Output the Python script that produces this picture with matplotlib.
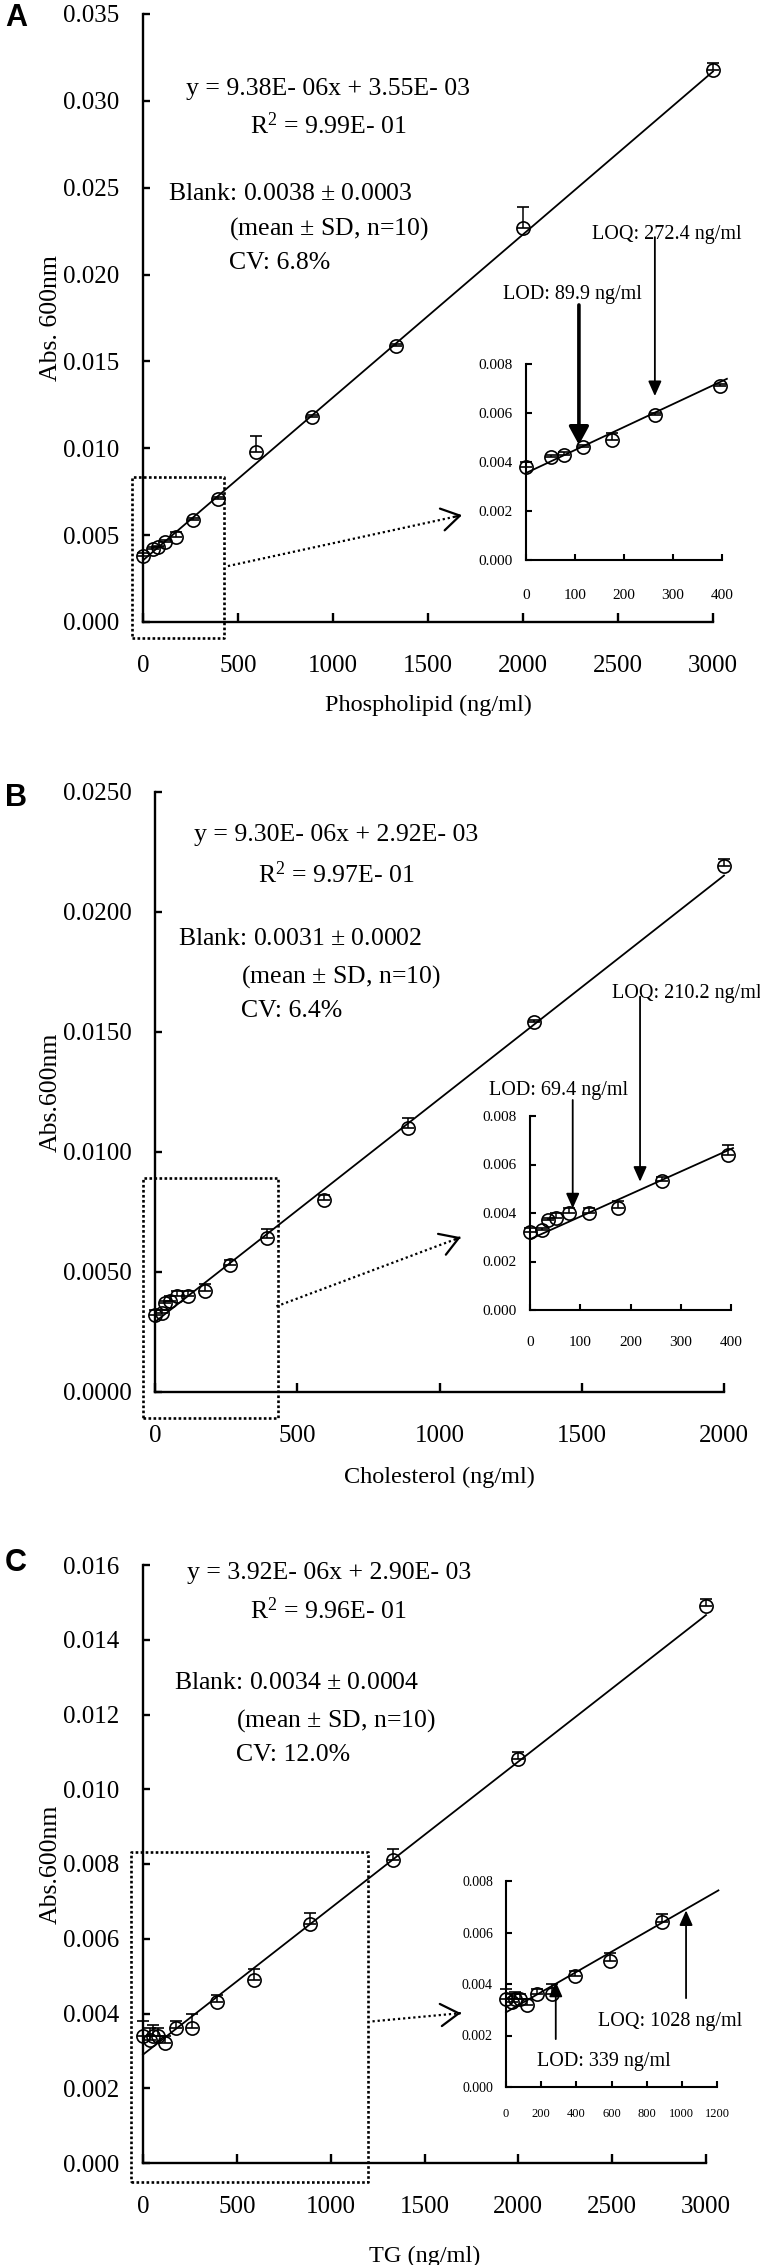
import numpy as np
import matplotlib
matplotlib.use('Agg')
import matplotlib.pyplot as plt
from matplotlib.ticker import FormatStrFormatter

# ---- data ----
# Phospholipid (panel A)
pl_conc = [0, 52, 78, 117, 176, 263, 395, 593, 889, 1333, 2000, 3000]
pl_abs = [0.0038, 0.0042, 0.0043, 0.0046, 0.0049, 0.0059, 0.0071, 0.0098, 0.0118, 0.0159, 0.0227, 0.0318]
pl_err = [0.0002, 0.0001, 0.0001, 0.0001, 0.0003, 0.0001, 0.0001, 0.0009, 0.0001, 0.0001, 0.0012, 0.0004]
pl_fit = (9.38e-06, 3.55e-03)

# Cholesterol (panel B)
chol_conc = [0, 23, 35, 52, 78, 117, 176, 263, 395, 593, 889, 1333, 2000]
chol_abs = [0.0032, 0.0033, 0.0037, 0.0038, 0.0040, 0.0040, 0.0042, 0.0053, 0.0064, 0.0080, 0.0110, 0.0154, 0.0219]
chol_err = [0.0002, 0.0001, 0.0001, 0.0002, 0.0002, 0.0002, 0.0003, 0.0002, 0.0004, 0.0002, 0.0004, 0.0001, 0.0003]
chol_fit = (9.30e-06, 2.92e-03)

# TG (panel C)
tg_conc = [0, 35, 52, 78, 117, 176, 263, 395, 593, 889, 1333, 2000, 3000]
tg_abs = [0.0034, 0.0033, 0.0034, 0.0034, 0.0032, 0.0036, 0.0036, 0.0043, 0.0049, 0.0064, 0.0081, 0.0108, 0.0149]
tg_err = [0.0004, 0.0003, 0.0003, 0.0002, 0.0002, 0.0002, 0.0004, 0.0002, 0.0003, 0.0003, 0.0003, 0.0002, 0.0002]
tg_fit = (3.92e-06, 2.90e-03)

# tick values
pl_xticks = [0, 500, 1000, 1500, 2000, 2500, 3000]
pl_yticks = [0.000, 0.005, 0.010, 0.015, 0.020, 0.025, 0.030, 0.035]
chol_xticks = [0, 500, 1000, 1500, 2000]
chol_yticks = [0.0000, 0.0050, 0.0100, 0.0150, 0.0200, 0.0250]
tg_xticks = [0, 500, 1000, 1500, 2000, 2500, 3000]
tg_yticks = [0.000, 0.002, 0.004, 0.006, 0.008, 0.010, 0.012, 0.014, 0.016]
inset_yticks = [0.000, 0.002, 0.004, 0.006, 0.008]
inset_xticks_low = [0, 100, 200, 300, 400]
inset_xticks_tg = [0, 200, 400, 600, 800, 1000, 1200]

# text blocks
pl_text = ['y = 9.38E- 06x + 3.55E- 03', r'R$^{2}$ = 9.99E- 01',
           'Blank: 0.0038 $\\pm$ 0.0003', '(mean $\\pm$ SD, n=10)', 'CV: 6.8%']
chol_text = ['y = 9.30E- 06x + 2.92E- 03', r'R$^{2}$ = 9.97E- 01',
             'Blank: 0.0031 $\\pm$ 0.0002', '(mean $\\pm$ SD, n=10)', 'CV: 6.4%']
tg_text = ['y = 3.92E- 06x + 2.90E- 03', r'R$^{2}$ = 9.96E- 01',
           'Blank: 0.0034 $\\pm$ 0.0004', '(mean $\\pm$ SD, n=10)', 'CV: 12.0%']

plt.rcParams['font.family'] = ['Liberation Serif', 'DejaVu Serif']
plt.rcParams['mathtext.fontset'] = 'custom'
plt.rcParams['mathtext.rm'] = 'Liberation Serif'
plt.rcParams['mathtext.it'] = 'Liberation Serif'
plt.rcParams['mathtext.sf'] = 'Liberation Serif'

W, H = 760, 2265
fig = plt.figure(figsize=(W / 100, H / 100), dpi=100)


def px_rect(left, right, top, bottom):
    return [left / W, 1 - bottom / H, (right - left) / W, (bottom - top) / H]


def style_axes(ax, lw, xlen, ylen, xpad, ypad, size):
    for s in ['top', 'right']:
        ax.spines[s].set_visible(False)
    for s in ['left', 'bottom']:
        ax.spines[s].set_linewidth(lw)
    ax.tick_params(axis='x', direction='in', length=xlen, width=lw, pad=xpad, labelsize=size)
    ax.tick_params(axis='y', direction='in', length=ylen, width=lw, pad=ypad, labelsize=size)
    ax.patch.set_alpha(0)


def draw_points(ax, x, y, err, fit, xend):
    x = np.array(x)
    y = np.array(y)
    err = np.array(err)
    ax.plot([0, xend], [fit[1], fit[0] * xend + fit[1]], color='k', lw=1.3, clip_on=False, zorder=2)
    eb = ax.errorbar(x, y, yerr=[np.zeros(len(err)), err], fmt='o', mfc='none', mec='k',
                     ms=9.5, mew=1.2, ecolor='k', elinewidth=1.1, capsize=4.5, capthick=1.4, zorder=3)
    for art in eb.get_children():
        art.set_clip_on(False)


def main_panel(rect, conc, absb, err, fit, xticks, yticks, yfmt, xlabel, ylabel, texts, tpos, px):
    ax = fig.add_axes(px_rect(*rect))
    style_axes(ax, 1.7, 6.5, 5, 24, 17, 18)
    draw_points(ax, conc, absb, err, fit, xticks[-1])
    ax.set_xlim(xticks[0], xticks[-1])
    ax.set_ylim(yticks[0], yticks[-1])
    ax.set_xticks(xticks)
    ax.set_yticks(yticks)
    ax.yaxis.set_major_formatter(FormatStrFormatter(yfmt))
    w = rect[1] - rect[0]
    h = rect[3] - rect[2]
    ax.set_xlabel(xlabel, fontsize=17.5)
    ax.xaxis.label.set_va('center')
    ax.xaxis.set_label_coords(0.5, -px[0] / h)
    ax.set_ylabel(ylabel, fontsize=18.5)
    ax.yaxis.label.set_va('center')
    ax.yaxis.set_label_coords(-px[1] / w, 0.5)
    # equation / blank statistics
    for txt, (tx, ty, ha) in zip(texts, tpos):
        ax.text(tx, ty, txt, transform=ax.transAxes, ha=ha, va='center', fontsize=18.5)
    return ax


def zoom_marks(ax, box, arrow):
    x0, x1, y0, y1 = box
    ax.plot([x0, x1, x1, x0, x0], [y0, y0, y1, y1, y0], color='k', lw=1.9,
            ls=(0, (1, 0.9)), clip_on=False, zorder=1)
    sx, sy, ex, ey = arrow
    ax.plot([sx, ex], [sy, ey], color='k', lw=1.6, ls=(0, (1, 1.3)), clip_on=False)
    ax.annotate('', xy=(ex, ey), xytext=(ex - 0.03 * (ex - sx), ey - 0.03 * (ey - sy)),
                arrowprops=dict(arrowstyle='->,head_length=0.65,head_width=0.4', lw=1.6,
                                color='k', shrinkA=0, shrinkB=0, mutation_scale=20),
                annotation_clip=False)


def inset_panel(rect, conc, absb, err, fit, xticks, xend, xpad, ysize, xsize):
    ax = fig.add_axes(px_rect(*rect))
    style_axes(ax, 1.5, 4.3, 4.3, xpad, 9.4, ysize)
    ax.tick_params(axis='x', labelsize=xsize)
    sel = [i for i, c in enumerate(conc) if c <= xticks[-1]]
    draw_points(ax, [conc[i] for i in sel], [absb[i] for i in sel], [err[i] for i in sel], fit, xend)
    ax.set_xlim(xticks[0], xticks[-1])
    ax.set_ylim(inset_yticks[0], inset_yticks[-1])
    ax.set_xticks(xticks)
    ax.set_yticks(inset_yticks)
    ax.yaxis.set_major_formatter(FormatStrFormatter('%.3f'))
    return ax


def limit_arrow(ax, x, start, tip, label, tx, ty, thick=False):
    if thick:
        props = dict(arrowstyle='-|>,head_length=0.55,head_width=0.3', lw=2.6, color='k',
                     shrinkA=0, shrinkB=0, mutation_scale=20)
    else:
        props = dict(arrowstyle='-|>,head_length=0.45,head_width=0.2', lw=1.3, color='k',
                     shrinkA=0, shrinkB=0, mutation_scale=20)
    ax.annotate('', xy=(x, tip), xytext=(x, start), arrowprops=props, annotation_clip=False)
    ax.text(tx, ty, label, ha='center', va='center', fontsize=14.5, clip_on=False)


# ---- Panel A ----
axA = main_panel((143, 713, 14, 622), pl_conc, pl_abs, pl_err, pl_fit, pl_xticks, pl_yticks, '%.3f',
                 'Phospholipid (ng/ml)', 'Abs. 600nm', pl_text,
                 [(0.3246, 0.8766, 'center'), (0.3246, 0.8158, 'center'), (0.0439, 0.704, 'left'),
                  (0.1509, 0.6464, 'left'), (0.1509, 0.5905, 'left')], (83, 92))
zoom_marks(axA, (-58, 428, -0.0009, 0.00836), (447, 0.00322, 1679, 0.00615))
inA = inset_panel((526, 722, 364, 560), pl_conc, pl_abs, pl_err, pl_fit, inset_xticks_low, 410, 21, 11, 11)
limit_arrow(inA, 108, 0.01041, 0.0047, 'LOD: 89.9 ng/ml', 95, 0.01082, thick=True)
limit_arrow(inA, 263, 0.01318, 0.00669, 'LOQ: 272.4 ng/ml', 288, 0.01327)

# ---- Panel B ----
axB = main_panel((155, 724, 792, 1392), chol_conc, chol_abs, chol_err, chol_fit, chol_xticks, chol_yticks,
                 '%.4f', 'Cholesterol (ng/ml)', 'Abs.600nm', chol_text,
                 [(0.318, 0.9283, 'center'), (0.318, 0.8617, 'center'), (0.0404, 0.755, 'left'),
                  (0.1511, 0.6917, 'left'), (0.1511, 0.635, 'left')], (85, 104))
zoom_marks(axB, (-43, 433, -0.00107, 0.00891), (427, 0.00357, 1075, 0.00645))
inB = inset_panel((530, 731, 1116, 1310), chol_conc, chol_abs, chol_err, chol_fit, inset_xticks_low, 404, 19, 11, 11)
limit_arrow(inB, 85, 0.00866, 0.00419, 'LOD: 69.4 ng/ml', 56, 0.00907)
limit_arrow(inB, 219, 0.01292, 0.00529, 'LOQ: 210.2 ng/ml', 312, 0.01307)

# ---- Panel C ----
axC = main_panel((143, 706, 1565, 2163), tg_conc, tg_abs, tg_err, tg_fit, tg_xticks, tg_yticks, '%.3f',
                 'TG (ng/ml)', 'Abs.600nm', tg_text,
                 [(0.3304, 0.9866, 'center'), (0.3286, 0.923, 'center'), (0.0551, 0.8027, 'left'),
                  (0.1652, 0.7391, 'left'), (0.1652, 0.6823, 'left')], (93, 92))
zoom_marks(axC, (-64, 1201, -0.0005, 0.00833), (1223, 0.00379, 1694, 0.00401))
inC = inset_panel((506, 717, 1881, 2087), tg_conc, tg_abs, tg_err, tg_fit, inset_xticks_tg, 1208, 15, 10, 9)
limit_arrow(inC, 283, 0.00186, 0.00409, 'LOD: 339 ng/ml', 556, 0.00099)
limit_arrow(inC, 1024, 0.00345, 0.00686, 'LOQ: 1028 ng/ml', 934, 0.00254)

# panel letters
for letter, ypx in [('A', 18), ('B', 798), ('C', 1563)]:
    fig.text(16 / W, 1 - ypx / H, letter, family='Liberation Sans', weight='bold',
             fontsize=22, ha='center', va='center')

fig.savefig('out.png', dpi=100)
